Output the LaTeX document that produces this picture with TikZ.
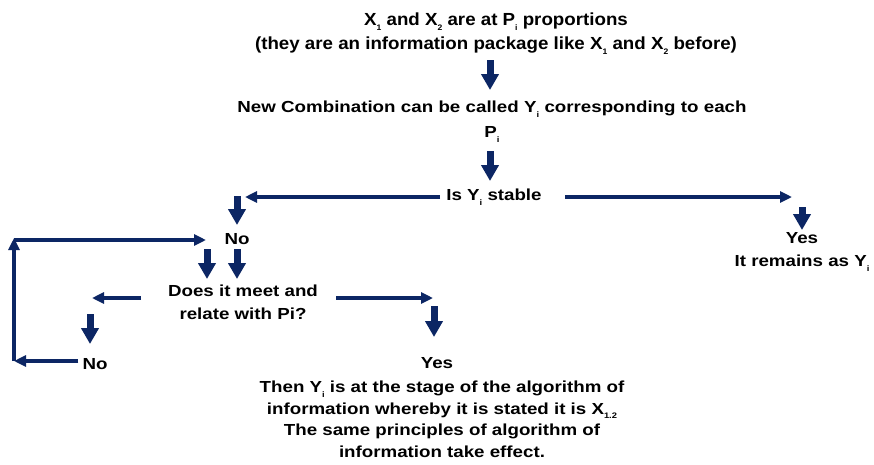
\documentclass[tikz,border=0pt]{standalone}
\usepackage{fontspec}
\setmainfont{Liberation Sans}
\newfontfamily\widefont[FakeStretch=1.17]{Liberation Sans}
\newfontfamily\topfont[FakeStretch=1.07]{Liberation Sans}
\usetikzlibrary{arrows.meta}
\definecolor{navy}{RGB}{12,38,100}
\newcommand{\lowi}[1]{\raisebox{-0.55ex}{\fontsize{8}{8}\selectfont #1}}

\begin{document}
\begin{tikzpicture}[x=1pt,y=-1pt,
    txt/.style={font=\widefont\fontsize{16}{23}\selectfont\bfseries,align=center,inner sep=1pt},
    toptxt/.style={font=\topfont\fontsize{17.5}{24}\selectfont\bfseries,align=center,inner sep=1pt},
    flow/.style={navy,line width=3.2pt,-{Triangle[length=12pt,width=11pt]}},
    blockdown/.style={navy,line width=7pt,-{Triangle[length=16pt,width=17pt]}}]
  \useasboundingbox[fill=white] (0,0) rectangle (874,464);
  % top of the chart
  \node[toptxt] (pkg) at (496,34) {X\lowi{1} and X\lowi{2} are at P\lowi{i} proportions\\
    (they are an information package like X\lowi{1} and X\lowi{2} before)};
  \node[txt,text width=560pt] (comb) at (492,122) {New Combination can be called Y\lowi{i} corresponding to each\\[2pt] P\lowi{i}};
  \node[txt] (stable) at (494,197) {Is Y\lowi{i} stable};
  \draw[blockdown] (490,60) -- (490,90);
  \draw[blockdown] (490,151) -- (490,181);
  % branches of the question
  \coordinate (noend) at (245,197);
  \coordinate (yesend) at (792,197);
  \draw[flow] (440,197) -- (noend);
  \draw[flow] (565,197) -- (yesend);
  \node[txt] (no1) at (237,239) {No};
  \node[txt] (yes1) at (802,252) {Yes\\It remains as Y\lowi{i}};
  \draw[blockdown] (237,196) -- (237,225);
  \draw[blockdown] (802,207) -- (802,230);
  % second question
  \node[txt] (meet) at (243,302) {Does it meet and\\relate with Pi?};
  \draw[blockdown] (207,249) -- (207,279);
  \draw[blockdown] (237,249) -- (237,279);
  \coordinate (leftend) at (92,298);
  \coordinate (rightend) at (433,298);
  \draw[flow] (141,298) -- (leftend);
  \draw[flow] (336,298) -- (rightend);
  \draw[blockdown] (90,314) -- (90,344);
  \draw[blockdown] (434,306) -- (434,337);
  \node[txt] (no2) at (95,364) {No};
  \node[txt] (yes2) at (437,363) {Yes};
  % loop back to the first No
  \coordinate (loopbl) at (14,361);
  \coordinate (looptl) at (14,240);
  \draw[flow] ([xshift=-3pt]no2.west |- loopbl) -- (loopbl);
  \draw[flow] (loopbl) -- ([yshift=2pt]looptl);
  \draw[flow] (looptl) -- (206,240);
  % final text
  \node[txt,anchor=north,inner sep=0pt,font=\widefont\fontsize{16}{21.5}\selectfont\bfseries] (stage) at (442,381) {Then Y\lowi{i} is at the stage of the algorithm of\\
    information whereby it is stated it is X\lowi{1.2}\\
    The same principles of algorithm of\\
    information take effect.};
\end{tikzpicture}
\end{document}
